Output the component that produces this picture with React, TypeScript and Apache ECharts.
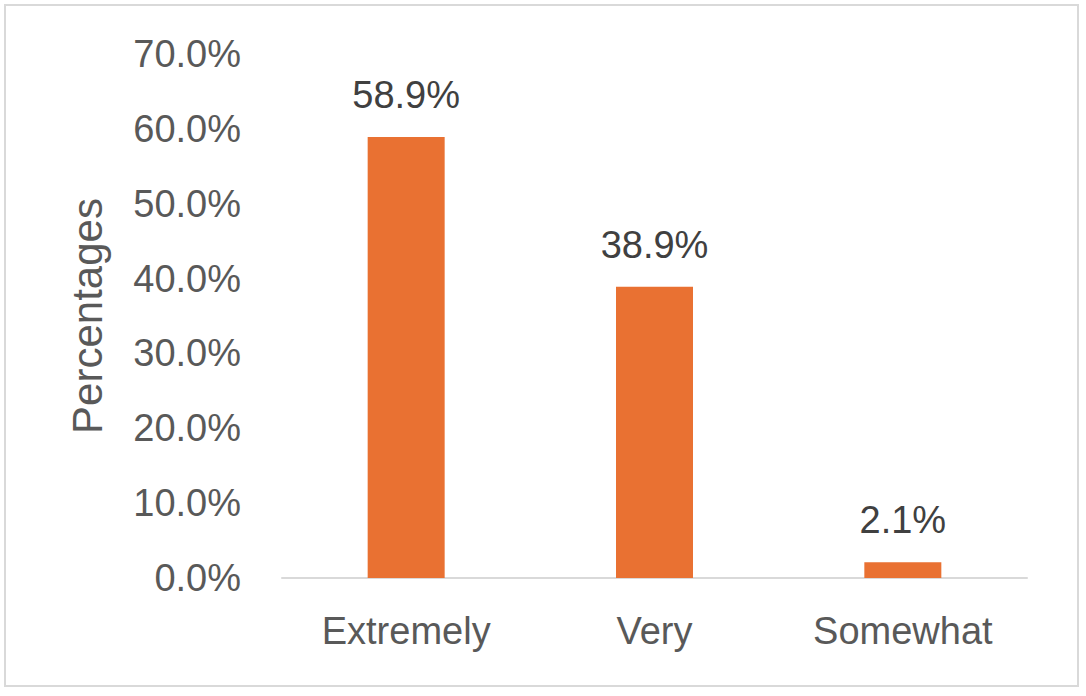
import React, { useEffect, useRef } from "react";
import * as echarts from "echarts";

const categories = ["Extremely", "Very", "Somewhat"];
const values = [58.9, 38.9, 2.1];
const yTicks = { min: 0, max: 70, interval: 10 };
const yTitle = "Percentages";

export default function App() {
  const ref = useRef<HTMLDivElement>(null);
  useEffect(() => {
    if (!ref.current) return;
    const chart = echarts.init(ref.current, undefined, { renderer: "svg" });
    const font = "Liberation Sans, Arial, sans-serif";
    chart.setOption({
      animation: false,
      backgroundColor: "#ffffff",
      graphic: [
        {
          type: "rect",
          shape: { x: 5, y: 5, width: 1073, height: 681 },
          style: { fill: "none", stroke: "#d9d9d9", lineWidth: 2 },
          silent: true,
        },
      ],
      grid: { left: 282, right: 59, top: 54, bottom: 118 },
      xAxis: {
        type: "category",
        data: categories,
        axisLine: { show: true, lineStyle: { color: "#d9d9d9", width: 2 } },
        axisTick: { show: false },
        axisLabel: { color: "#595959", fontSize: 38, fontFamily: font, margin: 34 },
      },
      yAxis: {
        type: "value",
        min: yTicks.min,
        max: yTicks.max,
        interval: yTicks.interval,
        name: yTitle,
        nameLocation: "middle",
        nameGap: 174,
        nameTextStyle: { color: "#595959", fontSize: 42, fontFamily: font },
        axisLine: { show: false },
        axisTick: { show: false },
        splitLine: { show: false },
        axisLabel: {
          color: "#595959",
          fontSize: 38,
          fontFamily: font,
          margin: 41,
          formatter: (v: number) => v.toFixed(1) + "%",
        },
      },
      series: [
        {
          type: "bar",
          data: values,
          barWidth: 77,
          itemStyle: { color: "#E97132" },
          label: {
            show: true,
            position: "top",
            distance: 23,
            color: "#404040",
            fontSize: 38,
            fontFamily: font,
            formatter: (p: any) => p.value.toFixed(1) + "%",
          },
        },
      ],
    });
    return () => chart.dispose();
  }, []);
  return (
    <div
      ref={ref}
      style={{ position: "absolute", left: 0, top: 0, width: 1086, height: 696 }}
    />
  );
}
